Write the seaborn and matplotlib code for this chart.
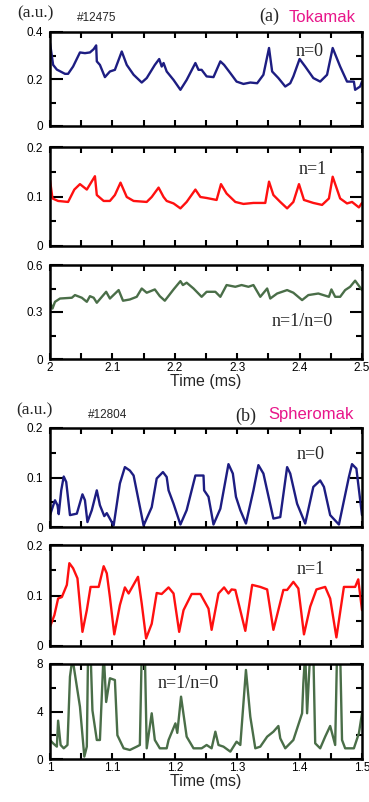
import matplotlib
matplotlib.use("Agg")
import matplotlib.pyplot as plt
from matplotlib.ticker import FixedLocator
import seaborn as sns

# ---------------- data ----------------
# (a) Tokamak #12475
tok_t_n0 = [2.000, 2.005, 2.011, 2.024, 2.029, 2.037, 2.048, 2.056, 2.064, 2.070,
            2.074, 2.075, 2.080, 2.088, 2.096, 2.104, 2.115, 2.123, 2.134, 2.147,
            2.155, 2.168, 2.175, 2.179, 2.182, 2.187, 2.198, 2.209, 2.219, 2.233,
            2.238, 2.243, 2.251, 2.262, 2.273, 2.279, 2.289, 2.299, 2.310, 2.321,
            2.332, 2.342, 2.351, 2.356, 2.366, 2.377, 2.385, 2.390, 2.400, 2.409,
            2.422, 2.433, 2.444, 2.453, 2.465, 2.476, 2.487, 2.489, 2.497, 2.500]
tok_n0 = [0.353, 0.26, 0.24, 0.222, 0.222, 0.253, 0.313, 0.31, 0.313, 0.327,
          0.343, 0.275, 0.26, 0.208, 0.232, 0.239, 0.317, 0.26, 0.218, 0.185,
          0.204, 0.26, 0.285, 0.253, 0.268, 0.232, 0.196, 0.154, 0.196, 0.268,
          0.239, 0.239, 0.211, 0.208, 0.275, 0.26, 0.225, 0.189, 0.179, 0.185,
          0.182, 0.218, 0.332, 0.232, 0.204, 0.168, 0.182, 0.211, 0.285, 0.253,
          0.204, 0.189, 0.218, 0.332, 0.253, 0.189, 0.189, 0.154, 0.168, 0.189]

tok_t_n1 = [2.000, 2.004, 2.013, 2.029, 2.039, 2.048, 2.059, 2.072, 2.075, 2.086,
            2.096, 2.104, 2.113, 2.123, 2.134, 2.155, 2.163, 2.174, 2.182, 2.187,
            2.198, 2.209, 2.219, 2.233, 2.241, 2.251, 2.267, 2.274, 2.283, 2.297,
            2.310, 2.326, 2.345, 2.351, 2.358, 2.369, 2.380, 2.390, 2.399, 2.407,
            2.422, 2.436, 2.447, 2.453, 2.465, 2.476, 2.484, 2.495, 2.500]
tok_n1 = [0.133, 0.096, 0.091, 0.089, 0.114, 0.125, 0.114, 0.141, 0.103, 0.091,
          0.091, 0.103, 0.128, 0.099, 0.091, 0.089, 0.099, 0.118, 0.099, 0.091,
          0.086, 0.076, 0.089, 0.114, 0.099, 0.097, 0.093, 0.125, 0.106, 0.089,
          0.085, 0.087, 0.087, 0.130, 0.103, 0.089, 0.076, 0.089, 0.125, 0.093,
          0.087, 0.083, 0.096, 0.140, 0.096, 0.086, 0.089, 0.078, 0.087]

tok_t_ratio = [2.000, 2.004, 2.008, 2.016, 2.035, 2.040, 2.051, 2.059, 2.064, 2.070,
               2.075, 2.090, 2.096, 2.110, 2.117, 2.128, 2.139, 2.147, 2.155, 2.168,
               2.176, 2.184, 2.198, 2.209, 2.213, 2.219, 2.230, 2.243, 2.251, 2.265,
               2.273, 2.283, 2.297, 2.307, 2.318, 2.326, 2.337, 2.348, 2.353, 2.364,
               2.380, 2.390, 2.404, 2.414, 2.430, 2.447, 2.451, 2.457, 2.465, 2.473,
               2.481, 2.489, 2.500]
tok_ratio = [0.365, 0.322, 0.365, 0.386, 0.391, 0.408, 0.391, 0.365, 0.401, 0.391,
             0.359, 0.429, 0.386, 0.44, 0.372, 0.38, 0.397, 0.45, 0.423, 0.444,
             0.401, 0.372, 0.444, 0.497, 0.472, 0.487, 0.45, 0.397, 0.429, 0.429,
             0.397, 0.472, 0.461, 0.472, 0.461, 0.472, 0.397, 0.45, 0.386, 0.418,
             0.44, 0.423, 0.376, 0.408, 0.418, 0.397, 0.444, 0.397, 0.397, 0.44,
             0.461, 0.5, 0.44]

# (b) Spheromak #12804
sph_t_n0 = [1.000, 1.008, 1.012, 1.014, 1.018, 1.022, 1.026, 1.032, 1.043, 1.052,
            1.056, 1.060, 1.067, 1.075, 1.080, 1.087, 1.091, 1.102, 1.112, 1.120,
            1.128, 1.134, 1.150, 1.163, 1.171, 1.181, 1.187, 1.190, 1.198, 1.209,
            1.219, 1.233, 1.246, 1.247, 1.254, 1.262, 1.273, 1.286, 1.293, 1.298,
            1.305, 1.314, 1.326, 1.334, 1.342, 1.358, 1.369, 1.380, 1.385, 1.396,
            1.409, 1.422, 1.433, 1.439, 1.449, 1.463, 1.479, 1.484, 1.491, 1.500]
sph_n0 = [0.024, 0.054, 0.044, 0.026, 0.074, 0.102, 0.091, 0.024, 0.027, 0.066,
          0.054, 0.010, 0.034, 0.074, 0.044, 0.022, 0.028, 0.003, 0.088, 0.121,
          0.114, 0.104, 0.003, 0.040, 0.098, 0.111, 0.101, 0.074, 0.047, 0.005,
          0.034, 0.104, 0.104, 0.074, 0.061, 0.005, 0.037, 0.127, 0.108, 0.061,
          0.034, 0.007, 0.074, 0.125, 0.108, 0.017, 0.020, 0.121, 0.108, 0.047,
          0.007, 0.081, 0.094, 0.081, 0.024, 0.005, 0.101, 0.127, 0.118, 0.024]

sph_t_n1 = [1.000, 1.007, 1.013, 1.019, 1.027, 1.031, 1.037, 1.044, 1.052, 1.059,
            1.065, 1.078, 1.086, 1.091, 1.096, 1.103, 1.112, 1.120, 1.126, 1.141,
            1.147, 1.154, 1.163, 1.171, 1.179, 1.190, 1.198, 1.207, 1.214, 1.227,
            1.241, 1.254, 1.259, 1.270, 1.279, 1.286, 1.291, 1.297, 1.313, 1.324,
            1.337, 1.348, 1.358, 1.374, 1.380, 1.390, 1.398, 1.407, 1.417, 1.427,
            1.441, 1.449, 1.459, 1.471, 1.489, 1.494, 1.500]
sph_n1 = [0.038, 0.061, 0.094, 0.097, 0.121, 0.164, 0.154, 0.134, 0.028, 0.071,
          0.117, 0.117, 0.158, 0.144, 0.097, 0.023, 0.081, 0.116, 0.104, 0.137,
          0.084, 0.015, 0.044, 0.105, 0.103, 0.116, 0.104, 0.028, 0.071, 0.103,
          0.103, 0.074, 0.032, 0.104, 0.116, 0.104, 0.112, 0.111, 0.030, 0.121,
          0.117, 0.112, 0.032, 0.111, 0.111, 0.127, 0.114, 0.023, 0.078, 0.112,
          0.117, 0.094, 0.017, 0.117, 0.117, 0.132, 0.071]

sph_t_ratio = [1.000, 1.005, 1.011, 1.013, 1.017, 1.022, 1.028, 1.032, 1.036, 1.048,
               1.055, 1.059, 1.061, 1.065, 1.068, 1.075, 1.080, 1.086, 1.090, 1.096,
               1.104, 1.108, 1.118, 1.128, 1.139, 1.144, 1.147, 1.152, 1.155, 1.163,
               1.168, 1.176, 1.187, 1.190, 1.201, 1.204, 1.210, 1.219, 1.230, 1.243,
               1.251, 1.259, 1.265, 1.270, 1.278, 1.289, 1.299, 1.305, 1.314, 1.321,
               1.329, 1.337, 1.348, 1.358, 1.366, 1.369, 1.377, 1.390, 1.404, 1.406,
               1.409, 1.412, 1.417, 1.422, 1.425, 1.433, 1.441, 1.449, 1.457, 1.460,
               1.465, 1.468, 1.473, 1.487, 1.495, 1.500]
sph_ratio = [1.6, 1.32, 1.04, 3.23, 1.18, 0.9, 1.18, 6.93, 8.5, 4.4,
             0.2, 1.04, 9, 9, 4.1, 1.6, 1.6, 9, 4.8, 6.8,
             6.65, 2.0, 0.9, 0.76, 1.04, 1.18, 9, 9, 0.9, 3.85,
             1.6, 0.9, 0.9, 1.6, 3.0, 2.2, 5.25, 1.88, 0.9, 0.9,
             1.18, 0.9, 2.3, 1.18, 1.04, 0.62, 1.46, 1.18, 7.5, 3.56,
             0.9, 1.04, 1.88, 2.3, 2.78, 1.74, 0.9, 1.6, 3.85, 6.37,
             9, 3.85, 9, 9, 1.32, 0.9, 1.88, 2.78, 1.18, 9,
             9, 1.6, 0.9, 0.9, 2.16, 3.85]

# ticks
tok_xticks = [2.0, 2.1, 2.2, 2.3, 2.4, 2.5]
tok_xminor = [2.05, 2.15, 2.25, 2.35, 2.45]
tok_xlabels = ["2", "2.1", "2.2", "2.3", "2.4", "2.5"]
sph_xticks = [1.0, 1.1, 1.2, 1.3, 1.4, 1.5]
sph_xminor = [1.05, 1.15, 1.25, 1.35, 1.45]
sph_xlabels = ["1", "1.1", "1.2", "1.3", "1.4", "1.5"]

yt_04 = [0, 0.2, 0.4]; ym_04 = [0.1, 0.3]; yl_04 = ["0", "0.2", "0.4"]
yt_02 = [0, 0.1, 0.2]; ym_02 = [0.05, 0.15]; yl_02 = ["0", "0.1", "0.2"]
yt_06 = [0, 0.3, 0.6]; ym_06 = [0.15, 0.45]; yl_06 = ["0", "0.3", "0.6"]
yt_8 = [0, 4, 8]; ym_8 = [2, 6]; yl_8 = ["0", "4", "8"]

# ---------------- style ----------------
sns.set_style("ticks")
plt.rcParams['font.family'] = ['Liberation Sans', 'DejaVu Sans']
SERIF = ['Liberation Serif', 'DejaVu Serif']

NAVY = "#1d1d82"
RED = "#ff1010"
GREEN = "#4a6e48"
PINK = "#e8168a"

W, H = 369, 802
fig = plt.figure(figsize=(W / 100, H / 100), dpi=100)


def rect(top, bottom, left=50, right=362):
    return [left / W, 1 - bottom / H, (right - left) / W, (bottom - top) / H]


def panel(r, t, v, color, xlim, xt, xm, xl, yt, ym, yl, show_x):
    ax = fig.add_axes(r)
    sns.lineplot(x=t, y=v, ax=ax, color=color, lw=1.7, estimator=None, sort=False)
    ax.set_xlim(*xlim)
    ax.set_ylim(yt[0], yt[-1])
    ax.xaxis.set_major_locator(FixedLocator(xt))
    ax.xaxis.set_minor_locator(FixedLocator(xm))
    ax.yaxis.set_major_locator(FixedLocator(yt))
    ax.yaxis.set_minor_locator(FixedLocator(ym))
    ax.set_yticklabels(yl)
    if show_x:
        ax.set_xticklabels(xl)
    else:
        ax.set_xticklabels([])
    ax.tick_params(which='both', direction='in', top=True, right=True,
                   width=1.5, color='black', labelsize=8.5, labelcolor='black')
    ax.tick_params(axis='y', which='major', length=9, pad=5)
    ax.tick_params(axis='y', which='minor', length=4)
    ax.tick_params(axis='x', which='both', length=4.5, pad=2)
    for s in ax.spines.values():
        s.set_linewidth(1.8)
        s.set_color('black')
    ax.set_xlabel("")
    ax.set_ylabel("")
    return ax


panel(rect(32, 126), tok_t_n0, tok_n0, NAVY, (2.0, 2.5), tok_xticks, tok_xminor,
      tok_xlabels, yt_04, ym_04, yl_04, False)
panel(rect(147, 246), tok_t_n1, tok_n1, RED, (2.0, 2.5), tok_xticks, tok_xminor,
      tok_xlabels, yt_02, ym_02, yl_02, False)
ax3 = panel(rect(265, 359), tok_t_ratio, tok_ratio, GREEN, (2.0, 2.5), tok_xticks,
            tok_xminor, tok_xlabels, yt_06, ym_06, yl_06, True)
ax3.set_xlabel("Time (ms)", fontsize=11.5, labelpad=0)

panel(rect(428, 527), sph_t_n0, sph_n0, NAVY, (1.0, 1.5), sph_xticks, sph_xminor,
      sph_xlabels, yt_02, ym_02, yl_02, False)
panel(rect(545, 646), sph_t_n1, sph_n1, RED, (1.0, 1.5), sph_xticks, sph_xminor,
      sph_xlabels, yt_02, ym_02, yl_02, False)
ax6 = panel(rect(664, 759), sph_t_ratio, sph_ratio, GREEN, (1.0, 1.5), sph_xticks,
            sph_xminor, sph_xlabels, yt_8, ym_8, yl_8, True)
ax6.set_xlabel("Time (ms)", fontsize=11.5, labelpad=0)


def txt(x, y, s, **kw):
    fig.text(x / W, 1 - y / H, s, va='center', ha='left', **kw)


# header (a)
txt(17, 13, "(a.u.)", fontsize=12.5, family=SERIF)
txt(77, 18, "#12475", fontsize=8.5)
txt(259, 16, "(a)", fontsize=13, family=SERIF)
txt(289, 17, "Tokamak", fontsize=12, color=PINK)
txt(296, 51, "n=0", fontsize=13, family=SERIF)
txt(299, 170, "n=1", fontsize=13, family=SERIF)
txt(272, 321, "n=1/n=0", fontsize=13, family=SERIF)

# header (b)
txt(16, 410, "(a.u.)", fontsize=12.5, family=SERIF)
txt(88, 415, "#12804", fontsize=8.5)
txt(235, 416, "(b)", fontsize=13, family=SERIF)
txt(268, 414, "Spheromak", fontsize=12, color=PINK)
txt(297, 454, "n=0", fontsize=13, family=SERIF)
txt(297, 569, "n=1", fontsize=13, family=SERIF)
txt(158, 683, "n=1/n=0", fontsize=13, family=SERIF)

fig.savefig("out.png", dpi=100)
